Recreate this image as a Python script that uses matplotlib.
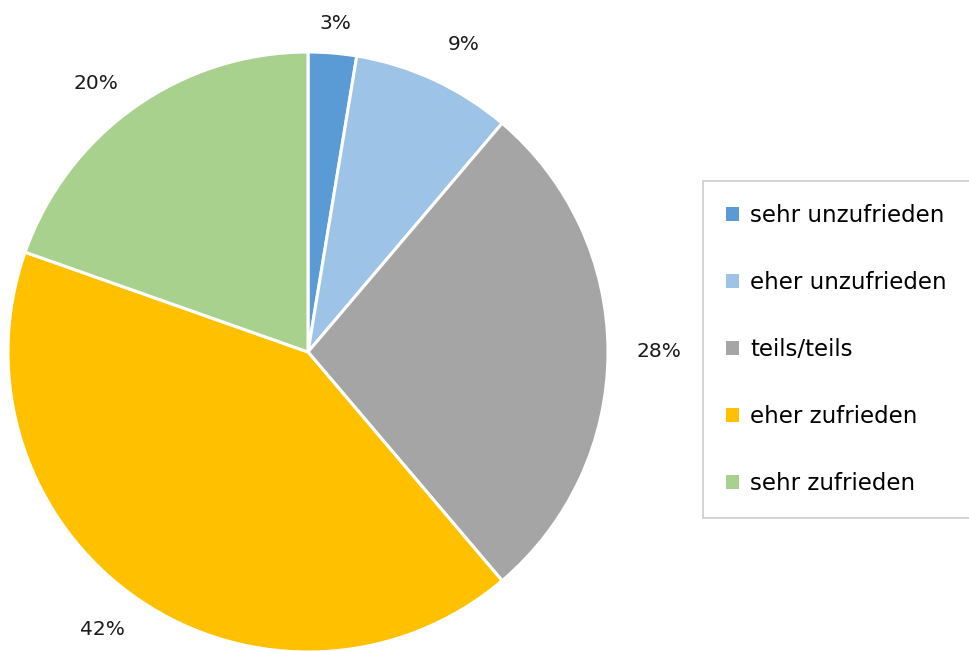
import numpy as np
import matplotlib
matplotlib.use("Agg")
import matplotlib.pyplot as plt
from matplotlib.patches import Patch

# Zufriedenheit, Anteile in Prozent
categories = ["sehr unzufrieden", "eher unzufrieden", "teils/teils", "eher zufrieden", "sehr zufrieden"]
shares = [2.6, 8.6, 27.6, 41.6, 19.6]
colors = ["#5B9BD5", "#9DC3E6", "#A5A5A5", "#FFC000", "#A9D18E"]

plt.rcParams["font.family"] = ["DejaVu Sans"]

fig = plt.figure(figsize=(9.7, 6.51), dpi=100)
ax = fig.add_axes([8 / 970, -1 / 651, 600 / 970, 600 / 651])

labels = [f"{v:.0f}%" for v in shares]
wedges, texts = ax.pie(
    shares,
    labels=labels,
    colors=colors,
    startangle=90,
    counterclock=False,
    labeldistance=1.15,
    wedgeprops=dict(edgecolor="white", linewidth=2.2),
    textprops=dict(fontsize=14.5, color="#1a1a1a"),
)

# Abstand und Winkelversatz der Beschriftung je Segment
label_dist = [1.10, 1.15, 1.17, 1.15, 1.14]
label_shift = [0, -2, 0, -2, 3]
for w, t, d, s in zip(wedges, texts, label_dist, label_shift):
    ang = np.deg2rad((w.theta1 + w.theta2) / 2 + s)
    t.set_position((d * np.cos(ang), d * np.sin(ang)))
    t.set_ha("center")
    t.set_va("center")

ax.set_xlim(-1, 1)
ax.set_ylim(-1, 1)
ax.set_aspect("equal")
ax.axis("off")

handles = [Patch(facecolor=c, edgecolor="none") for c in colors]
leg = fig.legend(
    handles, categories,
    loc="upper left",
    bbox_to_anchor=(703 / 970, 1 - 181 / 651),
    fontsize=16.5,
    frameon=True,
    fancybox=False,
    handlelength=0.55,
    handleheight=0.55,
    handletextpad=0.5,
    labelspacing=1.92,
    borderpad=1.0,
    borderaxespad=0,
)
leg.get_frame().set_edgecolor("#BFBFBF")
leg.get_frame().set_linewidth(1.2)

fig.savefig("out.png", dpi=100)
